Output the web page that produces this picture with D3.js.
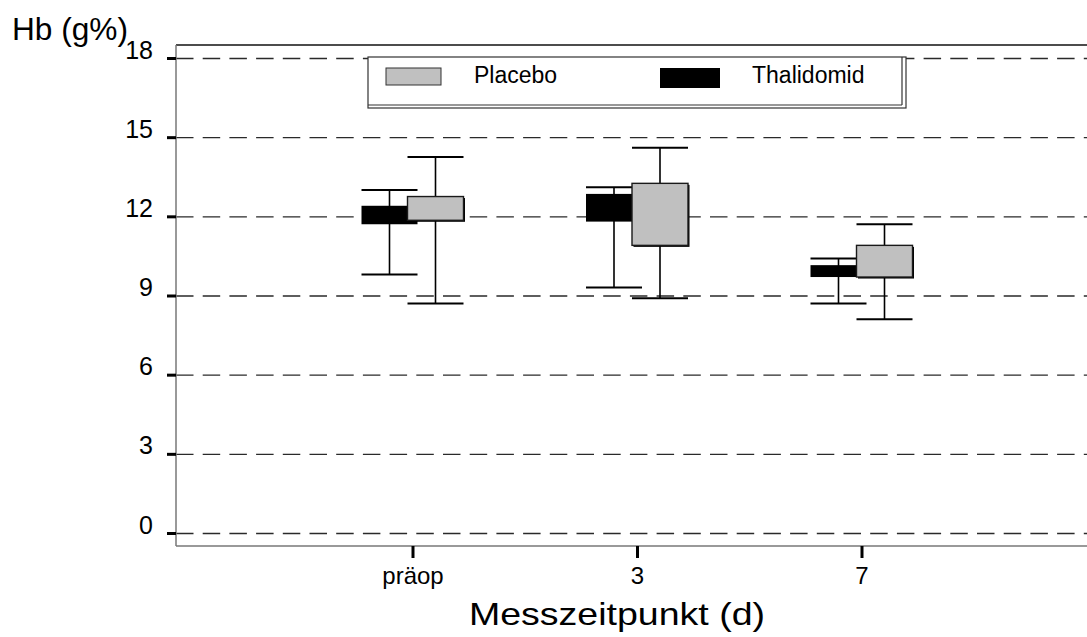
<!DOCTYPE html>
<html>
<head>
<meta charset="utf-8">
<script src="https://cdn.jsdelivr.net/npm/d3@7"></script>
<style>
  html, body { margin: 0; padding: 0; background: #fff; }
  svg { display: block; font-family: Arial, "Liberation Sans", sans-serif; }
</style>
</head>
<body>
<svg id="chart" width="1087" height="637"></svg>
<script>
// Hb values per measuring time: whisker low, box low, box high, whisker high
const categories = ["präop", "3", "7"];
const groups = ["Thalidomid", "Placebo"];
const thalidomidStats = [
  [9.8, 11.7, 12.4, 13.0],
  [9.3, 11.8, 12.85, 13.1],
  [8.7, 9.7, 10.15, 10.4]
];
const placeboStats = [
  [8.7, 11.85, 12.75, 14.25],
  [8.9, 10.9, 13.25, 14.6],
  [8.1, 9.7, 10.9, 11.7]
];
const yTicks = [0, 3, 6, 9, 12, 15, 18];
const yLabel = "Hb (g%)";
const xLabel = "Messzeitpunkt (d)";
const legendItems = ["Placebo", "Thalidomid"];

const svg = d3.select("#chart");
const plotLeft = 176, plotTop = 45, plotBottom = 546, plotRight = 1087;

const y = d3.scaleLinear().domain([0, 18]).range([533, 58]);
const x = d3.scalePoint().domain(categories).range([188, 1086]).padding(1);
const offset = d3.scalePoint().domain(groups).range([-23, 23]);
const boxW = 56;
const fill = d3.scaleOrdinal().domain(groups).range(["#000000", "#c0c0c0"]);

// dashed horizontal grid
const grid = svg.append("g").attr("transform", `translate(${plotLeft},0)`)
  .call(d3.axisRight(y).tickValues(yTicks).tickSize(plotRight - plotLeft).tickFormat(""));
grid.select(".domain").remove();
grid.selectAll(".tick line")
  .attr("stroke", "#2a2a2a").attr("stroke-width", 1.4)
  .attr("stroke-dasharray", "17.5,9.2");

// frame
svg.append("line").attr("x1", plotLeft).attr("x2", plotRight).attr("y1", plotTop).attr("y2", plotTop)
  .attr("stroke", "#111").attr("stroke-width", 1.5);
svg.append("line").attr("x1", plotLeft).attr("x2", plotRight).attr("y1", plotBottom).attr("y2", plotBottom)
  .attr("stroke", "#777").attr("stroke-width", 1.5);
svg.append("line").attr("x1", plotLeft).attr("x2", plotLeft).attr("y1", plotTop).attr("y2", plotBottom)
  .attr("stroke", "#777").attr("stroke-width", 1.5);

// y axis ticks and labels
const yAxis = svg.append("g").attr("transform", `translate(${plotLeft},0)`)
  .call(d3.axisLeft(y).tickValues(yTicks).tickSize(9).tickPadding(14));
yAxis.select(".domain").remove();
yAxis.selectAll(".tick line").attr("stroke", "#000").attr("stroke-width", 3);
yAxis.selectAll(".tick text").attr("dy", "0").attr("font-size", 25)
  .attr("font-family", "Arial, 'Liberation Sans', sans-serif").attr("fill", "#000");

// x axis ticks and labels
const xAxis = svg.append("g").attr("transform", `translate(0,${plotBottom})`)
  .call(d3.axisBottom(x).tickSize(12).tickPadding(0));
xAxis.select(".domain").remove();
xAxis.selectAll(".tick line").attr("stroke", "#000").attr("stroke-width", 3);
xAxis.selectAll(".tick text").attr("y", 38).attr("dy", "0").attr("font-size", 24)
  .attr("font-family", "Arial, 'Liberation Sans', sans-serif").attr("fill", "#000");

// axis titles
svg.append("text").attr("x", 12).attr("y", 40).attr("font-size", 31)
  .attr("textLength", 116).attr("lengthAdjust", "spacingAndGlyphs").text(yLabel);
svg.append("text").attr("x", 617).attr("y", 625).attr("text-anchor", "middle")
  .attr("font-size", 32).attr("textLength", 296).attr("lengthAdjust", "spacingAndGlyphs")
  .text(xLabel);

// boxes: Thalidomid first, Placebo drawn over it
function drawGroup(name, stats) {
  const g = svg.append("g");
  stats.forEach((s, i) => {
    const cx = x(categories[i]) + offset(name);
    const [lo, q1, q3, hi] = s;
    g.append("line").attr("x1", cx).attr("x2", cx).attr("y1", y(lo)).attr("y2", y(hi))
      .attr("stroke", "#000").attr("stroke-width", 1.6);
    [lo, hi].forEach(v => {
      g.append("line").attr("x1", cx - boxW / 2).attr("x2", cx + boxW / 2)
        .attr("y1", y(v)).attr("y2", y(v)).attr("stroke", "#000").attr("stroke-width", 2);
    });
    if (name === "Placebo") {
      g.append("rect").attr("x", cx - boxW / 2 + 1.5).attr("y", y(q3) + 1.5)
        .attr("width", boxW).attr("height", y(q1) - y(q3)).attr("fill", "#000");
      g.append("rect").attr("x", cx - boxW / 2).attr("y", y(q3))
        .attr("width", boxW).attr("height", y(q1) - y(q3))
        .attr("fill", fill(name)).attr("stroke", "#1a1a1a").attr("stroke-width", 1.4);
    } else {
      g.append("rect").attr("x", cx - boxW / 2).attr("y", y(q3))
        .attr("width", boxW).attr("height", y(q1) - y(q3)).attr("fill", fill(name));
    }
  });
}
drawGroup("Thalidomid", thalidomidStats);
drawGroup("Placebo", placeboStats);

// legend
const lg = svg.append("g");
lg.append("rect").attr("x", 368).attr("y", 57).attr("width", 538).attr("height", 51)
  .attr("fill", "#fff").attr("stroke", "#333").attr("stroke-width", 1.2);
lg.append("line").attr("x1", 902).attr("x2", 902).attr("y1", 57).attr("y2", 105)
  .attr("stroke", "#333").attr("stroke-width", 1.2);
lg.append("line").attr("x1", 368).attr("x2", 902).attr("y1", 105).attr("y2", 105)
  .attr("stroke", "#333").attr("stroke-width", 1.2);
lg.append("rect").attr("x", 386).attr("y", 68).attr("width", 55).attr("height", 17)
  .attr("fill", fill("Placebo")).attr("stroke", "#333").attr("stroke-width", 1);
lg.append("text").attr("x", 474).attr("y", 83).attr("font-size", 23).text(legendItems[0]);
lg.append("rect").attr("x", 660).attr("y", 68).attr("width", 60).attr("height", 20)
  .attr("fill", fill("Thalidomid"));
lg.append("text").attr("x", 752).attr("y", 83).attr("font-size", 23).text(legendItems[1]);
</script>
</body>
</html>
